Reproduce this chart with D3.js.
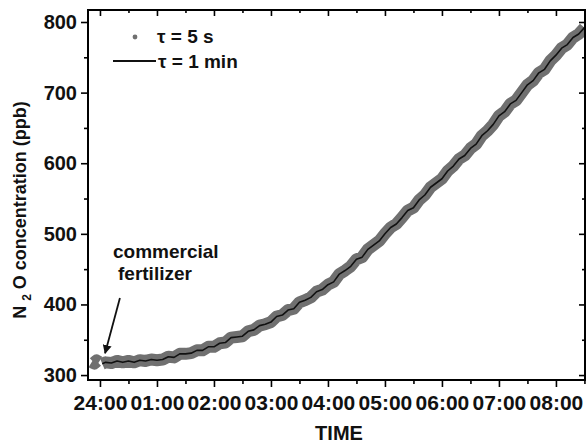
<!DOCTYPE html>
<html><head><meta charset="utf-8">
<script src="https://cdn.jsdelivr.net/npm/d3@7"></script>
<style>
html,body{margin:0;padding:0;background:#fff;}
svg{display:block;font-family:"Liberation Sans",Arial,sans-serif;font-weight:bold;}
</style></head>
<body><svg id="c" width="586" height="445"></svg>
<script>
// ---- data ----
const xTickValues = [0,1,2,3,4,5,6,7,8];
const xTickLabels = ["24:00","01:00","02:00","03:00","04:00","05:00","06:00","07:00","08:00"];
const xMinorTicks = [0.5,1.5,2.5,3.5,4.5,5.5,6.5,7.5,8.5];
const yTickValues = [300,400,500,600,700,800];
const yMinorTicks = [350,450,550,650,750];
// samples before fertilizer application (tau = 5 s only), hours after 24:00
const preTime = [-0.14,-0.10,-0.06,-0.02];
const preN2O  = [319,317,320,318];
// main record, hours after 24:00
const time = [0.04,0.1,0.2,0.3,0.4,0.5,0.6,0.7,0.8,0.9,
  1.0,1.1,1.2,1.3,1.4,1.5,1.6,1.7,1.8,1.9,
  2.0,2.1,2.2,2.3,2.4,2.5,2.6,2.7,2.8,2.9,
  3.0,3.1,3.2,3.3,3.4,3.5,3.6,3.7,3.8,3.9,
  4.0,4.1,4.2,4.3,4.4,4.5,4.6,4.7,4.8,4.9,
  5.0,5.1,5.2,5.3,5.4,5.5,5.6,5.7,5.8,5.9,
  6.0,6.1,6.2,6.3,6.4,6.5,6.6,6.7,6.8,6.9,
  7.0,7.1,7.2,7.3,7.4,7.5,7.6,7.7,7.8,7.9,
  8.0,8.1,8.2,8.3,8.4,8.5];
const n2o = [316,318,317,320,318,320,318,321,320,322,
  321,322,326,325,330,330,331,335,335,340,
  340,345,346,353,354,355,362,364,370,372,
  375,383,385,392,394,403,406,410,418,421,
  428,432,443,448,454,464,467,478,484,490,
  500,509,514,523,533,537,548,555,566,572,
  578,589,596,606,611,621,627,639,646,655,
  667,673,684,689,700,711,717,728,733,745,
  753,763,768,778,783,792];
const legendLabels = ["\u03c4 = 5 s","\u03c4 = 1 min"];
const annotationLines = ["commercial","fertilizer"];

// ---- layout ----
const svg = d3.select("#c");
const L = 88, R = 585, T = 10, B = 380;
const x = d3.scaleLinear().domain([-0.21, 8.51]).range([L, R]);
const y = d3.scaleLinear().domain([293, 817]).range([B, T]);
const grayCol = "#707070";

// data band (5 s samples) and 1-min line
const pts = time.map((t,i)=>[t,n2o[i]]);
const prePts = preTime.map((t,i)=>[t,preN2O[i]]);
const line = d3.line().x(d=>x(d[0])).y(d=>y(d[1]));
svg.append("path").attr("d", line(prePts)).attr("fill","none")
  .attr("stroke", grayCol).attr("stroke-width", 13).attr("stroke-linejoin","round");
svg.append("path").attr("d", line(pts)).attr("fill","none")
  .attr("stroke", grayCol).attr("stroke-width", 12).attr("stroke-linejoin","round");
svg.append("path").attr("d", line(pts)).attr("fill","none")
  .attr("stroke", "#111").attr("stroke-width", 1.6).attr("stroke-linejoin","round");

// axes
function styleAxis(g){ g.select(".domain").remove();
  g.selectAll("line").attr("stroke","#000").attr("stroke-width",1.6);
  g.selectAll("text").attr("fill","#111"); }
svg.append("g").attr("transform",`translate(0,${B})`)
  .call(d3.axisBottom(x).tickValues(xTickValues).tickFormat((d,i)=>xTickLabels[i]).tickSize(7).tickPadding(8))
  .call(styleAxis).selectAll("text").attr("font-size",21);
svg.append("g").attr("transform",`translate(0,${B})`)
  .call(d3.axisBottom(x).tickValues(xMinorTicks).tickFormat("").tickSize(4)).call(styleAxis);
svg.append("g").attr("transform",`translate(0,${T})`)
  .call(d3.axisTop(x).tickValues(xTickValues).tickFormat("").tickSize(-6)).call(styleAxis);
svg.append("g").attr("transform",`translate(0,${T})`)
  .call(d3.axisTop(x).tickValues(xMinorTicks).tickFormat("").tickSize(-3)).call(styleAxis);
svg.append("g").attr("transform",`translate(${L},0)`)
  .call(d3.axisLeft(y).tickValues(yTickValues).tickSize(7).tickPadding(4))
  .call(styleAxis).selectAll("text").attr("font-size",20);
svg.append("g").attr("transform",`translate(${L},0)`)
  .call(d3.axisLeft(y).tickValues(yMinorTicks).tickFormat("").tickSize(4)).call(styleAxis);
svg.append("g").attr("transform",`translate(${R},0)`)
  .call(d3.axisRight(y).tickValues(yTickValues).tickFormat("").tickSize(-6)).call(styleAxis);
svg.append("g").attr("transform",`translate(${R},0)`)
  .call(d3.axisRight(y).tickValues(yMinorTicks).tickFormat("").tickSize(-3)).call(styleAxis);

// frame
svg.append("rect").attr("x",L).attr("y",T).attr("width",R-L).attr("height",B-T)
  .attr("fill","none").attr("stroke","#000").attr("stroke-width",2);

// axis titles
svg.append("text").attr("x",339).attr("y",440).attr("text-anchor","middle")
  .attr("font-size",20).attr("fill","#111").text("TIME");
const yt = svg.append("text").attr("transform","translate(26,210) rotate(-90)")
  .attr("text-anchor","middle").attr("font-size",18).attr("fill","#111");
yt.append("tspan").text("N ");
yt.append("tspan").attr("font-size",12).attr("dy",5).text("2");
yt.append("tspan").attr("dy",-5).text(" O concentration (ppb)");

// legend
svg.append("circle").attr("cx",135).attr("cy",37).attr("r",2.4).attr("fill",grayCol);
svg.append("text").attr("x",157).attr("y",43).attr("font-size",19).attr("fill","#111").text(legendLabels[0]);
svg.append("line").attr("x1",113).attr("x2",156).attr("y1",61).attr("y2",61)
  .attr("stroke","#111").attr("stroke-width",2);
svg.append("text").attr("x",158).attr("y",68).attr("font-size",19).attr("fill","#111").text(legendLabels[1]);

// annotation
svg.append("text").attr("x",113).attr("y",258).attr("font-size",19).attr("fill","#111").text(annotationLines[0]);
svg.append("text").attr("x",118).attr("y",280).attr("font-size",19).attr("fill","#111").text(annotationLines[1]);
svg.append("defs").append("marker").attr("id","ah").attr("viewBox","0 0 10 10")
  .attr("refX",9).attr("refY",5).attr("markerWidth",9).attr("markerHeight",9)
  .attr("markerUnits","userSpaceOnUse").attr("orient","auto")
  .append("path").attr("d","M0,0 L10,5 L0,10 Z").attr("fill","#111");
svg.append("line").attr("x1",x(0.35)).attr("y1",y(409)).attr("x2",x(0.09)).attr("y2",y(331))
  .attr("stroke","#111").attr("stroke-width",1.8).attr("marker-end","url(#ah)");
</script></body></html>
